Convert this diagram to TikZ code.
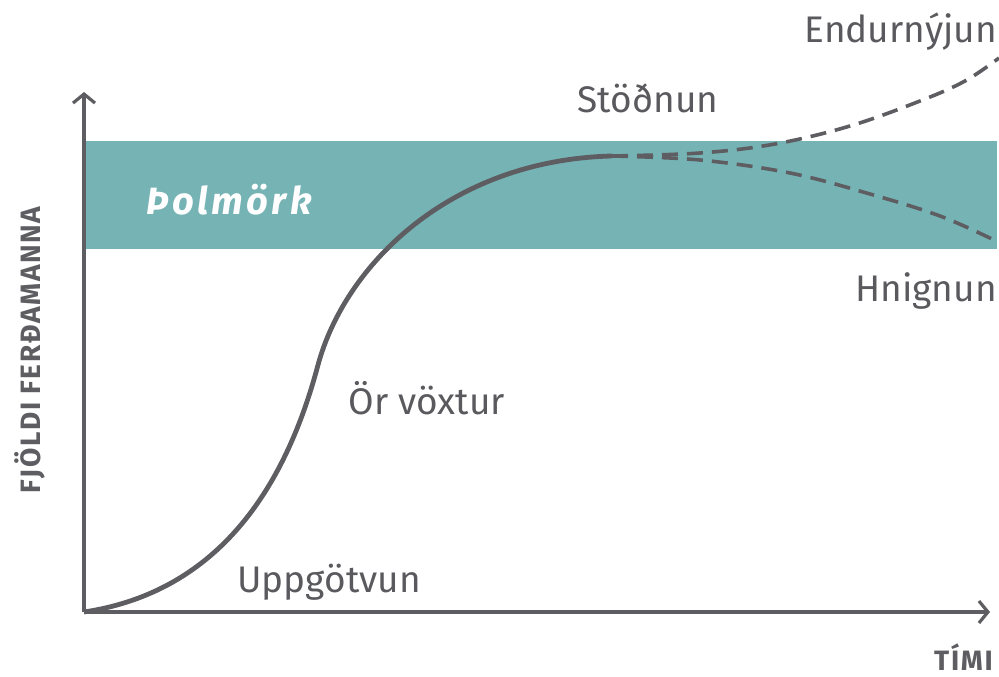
\documentclass[tikz,border=0pt]{standalone}
\usepackage{fontspec}
\setmainfont{Fira Sans}
\usetikzlibrary{arrows.meta}
\definecolor{axisgray}{HTML}{5E5E62}
\definecolor{band}{HTML}{76B3B5}
\definecolor{txtgray}{HTML}{5A5A5E}
\tikzset{
  lbl/.style={text=txtgray, font=\fontsize{37}{39}\selectfont, inner sep=0pt},
  axlbl/.style={text=axisgray, font=\fontsize{28}{30}\selectfont\bfseries\addfontfeatures{LetterSpace=6}, inner sep=0pt},
  axisline/.style={draw=axisgray, line width=3.6pt, -{Straight Barb[length=9pt,width=22pt,line width=3.2pt]}},
  curve/.style={draw=axisgray, line width=4.8pt},
  dashcurve/.style={draw=axisgray, line width=3.6pt, dash pattern=on 16pt off 9pt}
}
\begin{document}
\begin{tikzpicture}[x=1pt,y=-1pt]
\useasboundingbox (0,0) rectangle (999,677);
\fill[band] (84,141) rectangle (997,249);
\coordinate (o) at (84,612);
\coordinate (ytop) at (84,92);
\coordinate (xend) at (990,612);
\coordinate (inf) at (318,365);
\coordinate (plat) at (612,156);
\draw[axisline] (o) -- (ytop);
\draw[axisline] (o) -- (xend);
\draw[dashcurve] plot[smooth, tension=0.6] coordinates {(612,156) (700,153) (775,144) (850,126) (920,101) (965,81) (999,58)};
\draw[dashcurve] plot[smooth, tension=0.6] coordinates {(612,156) (700,160) (790,173) (870,194) (940,216) (994,240)};
\draw[curve] (o) .. controls (230,590) and (290,470) .. (inf) .. controls (345,265) and (450,160) .. (plat);
\node[lbl, anchor=base east] (endur) at (997,43) {Endurnýjun};
\node[lbl, anchor=base] (stod) at (648,113) {Stöðnun};
\node[lbl, anchor=base east] (hnig) at (997,301) {Hnignun};
\node[lbl, anchor=base] (vox) at (427,414) {Ör vöxtur};
\node[lbl, anchor=base] (upp) at (329,592) {Uppgötvun};
\node[text=white, font=\fontsize{38}{40}\selectfont\bfseries\itshape\addfontfeatures{LetterSpace=9}, anchor=base west, inner sep=0pt] (thol) at (146,214) {Þolmörk};
\node[axlbl, anchor=base east] (timi) at (993,670) {TÍMI};
\node[axlbl, rotate=90, anchor=base] (fjoldi) at (40,350) {FJÖLDI FERÐAMANNA};
\end{tikzpicture}
\end{document}
